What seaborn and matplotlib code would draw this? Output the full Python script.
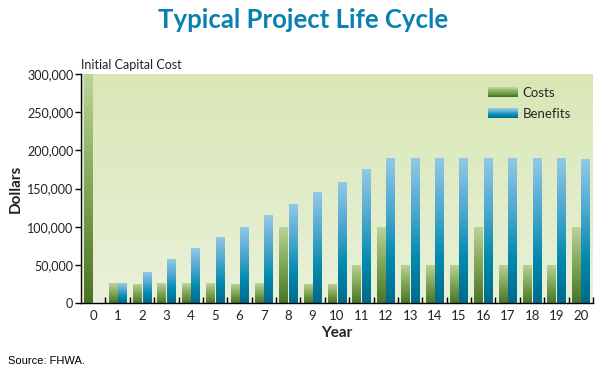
import numpy as np
import pandas as pd
import matplotlib
import matplotlib.pyplot as plt
import seaborn as sns
from matplotlib.colors import LinearSegmentedColormap
from matplotlib.legend_handler import HandlerBase
from matplotlib.patches import Rectangle, Patch
from matplotlib.ticker import FuncFormatter

matplotlib.use('Agg')

# data
years = list(range(21))
costs = [300000, 26000, 25000, 26000, 26000, 26000, 25000, 26000, 100000, 25000, 25000,
         50000, 100000, 50000, 50000, 50000, 100000, 50000, 50000, 50000, 100000]
benefits = [0, 26000, 40000, 57000, 72000, 87000, 100000, 115000, 130000, 145000, 159000,
            175000, 190000, 190000, 190000, 190000, 190000, 190000, 190000, 190000, 189000]
series = ['Costs', 'Benefits']

df = pd.DataFrame({
    'year': years * 2,
    'value': costs + benefits,
    'series': ['Costs'] * len(years) + ['Benefits'] * len(years),
})

sns.set_style('ticks')
plt.rcParams['font.family'] = ['Lato', 'DejaVu Sans']

cost_cmap = LinearSegmentedColormap.from_list(
    'cost', [(0, '#4a7426'), (0.5, '#80a657'), (1, '#bdd49b')])
ben_cmap = LinearSegmentedColormap.from_list(
    'ben', [(0, '#006a8c'), (0.3, '#0089ae'), (0.65, '#4fa9d0'), (1, '#94c9e6')])
bg_cmap = LinearSegmentedColormap.from_list('bg', ['#e9f1d9', '#d9e7b5'])

fig = plt.figure(figsize=(6.07, 3.76), dpi=100)
ax = fig.add_axes([81 / 607, 1 - 303 / 376, 512 / 607, 229 / 376])

sns.barplot(data=df, x='year', y='value', hue='series', hue_order=series,
            palette=['#80a657', '#2a9cc4'], width=0.78, gap=0.12,
            ax=ax, zorder=2, legend=False)

# background gradient
ax.imshow(np.linspace(0, 1, 256)[:, None], cmap=bg_cmap, origin='lower',
          extent=[0, 1, 0, 1], transform=ax.transAxes, aspect='auto', zorder=0)

# gradient fill on each bar
grad = np.linspace(0, 1, 256)[:, None]
for container, cmap in zip(ax.containers, [cost_cmap, ben_cmap]):
    for bar in container:
        h = bar.get_height()
        if h <= 0:
            continue
        x0 = bar.get_x()
        w = bar.get_width()
        im = ax.imshow(grad, cmap=cmap, origin='lower', aspect='auto',
                       extent=[x0, x0 + w, 0, h], zorder=2)
        im.set_clip_path(bar)
        bar.set_facecolor('none')
        bar.set_edgecolor('none')

ax.set_xlim(-0.5, 20.5)
ax.set_ylim(0, 300000)
ax.set_yticks(range(0, 300001, 50000))
ax.yaxis.set_major_formatter(FuncFormatter(lambda v, p: f'{int(v):,}'))
ax.set_xticks(years)
ax.set_xticklabels([str(y) for y in years])
ax.set_xticks(np.arange(0.5, 21, 1), minor=True)
ax.tick_params(axis='x', which='major', length=0, labelsize=9.5, pad=5, colors='#222222')
ax.tick_params(axis='x', which='minor', length=4, direction='in', width=1)
ax.tick_params(axis='y', length=4, width=1, labelsize=9, pad=1.5, colors='#222222')
ax.tick_params(axis='both', which='both', color='black')

for side in ['top', 'right']:
    ax.spines[side].set_visible(False)
for side in ['left', 'bottom']:
    ax.spines[side].set_linewidth(1)
    ax.spines[side].set_color('black')

ax.set_xlabel('Year', fontsize=11, fontweight='bold', labelpad=3, color='#222222')
ax.set_ylabel('Dollars', fontsize=11, fontweight='bold', color='#222222')
ax.yaxis.set_label_coords(-0.113, 0.5)


class GradHandler(HandlerBase):
    def __init__(self, cmap, n=12):
        super().__init__()
        self.cmap = cmap
        self.n = n

    def create_artists(self, legend, orig_handle, xdescent, ydescent,
                       width, height, fontsize, trans):
        parts = []
        for i in range(self.n):
            r = Rectangle((-xdescent, -ydescent + i * height / self.n), width,
                          height / self.n + 0.3, facecolor=self.cmap(i / (self.n - 1)),
                          edgecolor='none', transform=trans)
            parts.append(r)
        return parts


h_cost = Patch(label='Costs')
h_ben = Patch(label='Benefits')
ax.legend([h_cost, h_ben], series,
          handler_map={h_cost: GradHandler(cost_cmap), h_ben: GradHandler(ben_cmap)},
          loc='upper left', bbox_to_anchor=(0.795, 0.945), frameon=False,
          fontsize=9.5, handlelength=2.3, handleheight=0.8, handletextpad=0.3,
          labelspacing=0.7, borderpad=0, borderaxespad=0)

fig.text(0.5, 1 - 20 / 376, 'Typical Project Life Cycle', ha='center', va='center',
         fontsize=18.5, fontweight='bold', color='#0a80b2')
ax.text(0, 1.012, 'Initial Capital Cost', transform=ax.transAxes, ha='left',
        va='bottom', fontsize=9, color='#222222')
fig.text(8 / 607, 1 - 361 / 376, 'Source: FHWA.', ha='left', va='center',
         fontsize=8, family='Liberation Sans', color='black')

fig.savefig('out.png', dpi=100)
